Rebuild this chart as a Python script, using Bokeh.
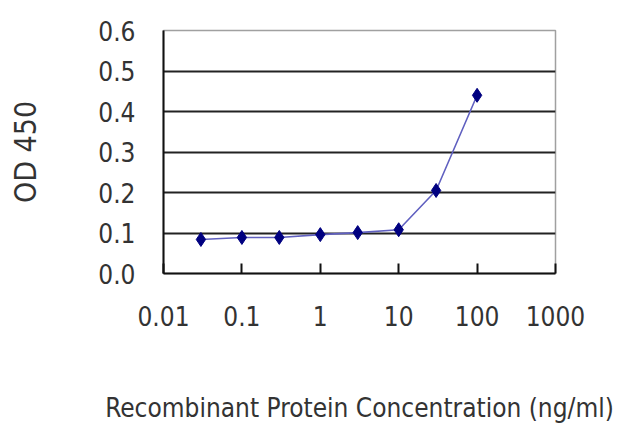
from bokeh.plotting import figure
from bokeh.models import FixedTicker, Range1d
from bokeh.embed import file_html
from bokeh.resources import INLINE

conc = [0.03, 0.1, 0.3, 1, 3, 10, 30, 100]
od = [0.084, 0.089, 0.089, 0.096, 0.101, 0.108, 0.205, 0.44]
x_ticks = [0.01, 0.1, 1, 10, 100, 1000]
x_tick_labels = ["0.01", "0.1", "1", "10", "100", "1000"]
y_ticks = [0.0, 0.1, 0.2, 0.3, 0.4, 0.5, 0.6]
y_tick_labels = ["0.0", "0.1", "0.2", "0.3", "0.4", "0.5", "0.6"]

FONT = "DejaVu Sans Condensed, Liberation Sans, sans-serif"

p = figure(width=632, height=427, x_axis_type="log", output_backend="svg",
           toolbar_location=None, x_range=Range1d(0.01, 1000), y_range=Range1d(0, 0.6),
           min_border_left=163, min_border_top=30, min_border_right=77, min_border_bottom=154)
p.background_fill_color = "white"
p.border_fill_color = "white"
p.outline_line_color = "#a0a0a0"
p.outline_line_width = 1.5

p.xgrid.visible = False
p.ygrid.ticker = FixedTicker(ticks=[0.1, 0.2, 0.3, 0.4, 0.5])
p.ygrid.grid_line_color = "#222222"
p.ygrid.grid_line_width = 1.8

p.xaxis.ticker = FixedTicker(ticks=x_ticks)
p.xaxis.major_label_overrides = {t: l for t, l in zip(x_ticks, x_tick_labels)}
p.yaxis.ticker = FixedTicker(ticks=y_ticks)
p.yaxis.major_label_overrides = {t: l for t, l in zip(y_ticks, y_tick_labels)}

for ax in (p.xaxis, p.yaxis):
    ax.axis_line_color = "#111111"
    ax.axis_line_width = 2
    ax.major_label_text_font = FONT
    ax.major_label_text_font_size = "26px"
    ax.major_label_text_color = "#333333"
    ax.axis_label_text_font = FONT
    ax.axis_label_text_font_size = "26px"
    ax.axis_label_text_font_style = "normal"
    ax.axis_label_text_color = "#333333"
    ax.minor_tick_line_color = None

p.xaxis.major_tick_in = 10
p.xaxis.major_tick_out = 0
p.xaxis.major_tick_line_color = "#111111"
p.xaxis.major_tick_line_width = 2
p.xaxis.major_label_standoff = 32
p.xaxis.axis_label = "Recombinant Protein Concentration (ng/ml)"
p.xaxis.axis_label_standoff = 64

p.yaxis.major_tick_in = 0
p.yaxis.major_tick_out = 0
p.yaxis.major_label_standoff = 28
p.yaxis.axis_label = "OD 450"
p.yaxis.axis_label_text_font_size = "30px"
p.yaxis.axis_label_standoff = 52

p.line(conc, od, line_color="#6060c0", line_width=1.6)
p.scatter(conc, od, marker="diamond", size=14, fill_color="#000080", line_color="#000080")

open("out.html", "w").write(file_html(p, INLINE))
